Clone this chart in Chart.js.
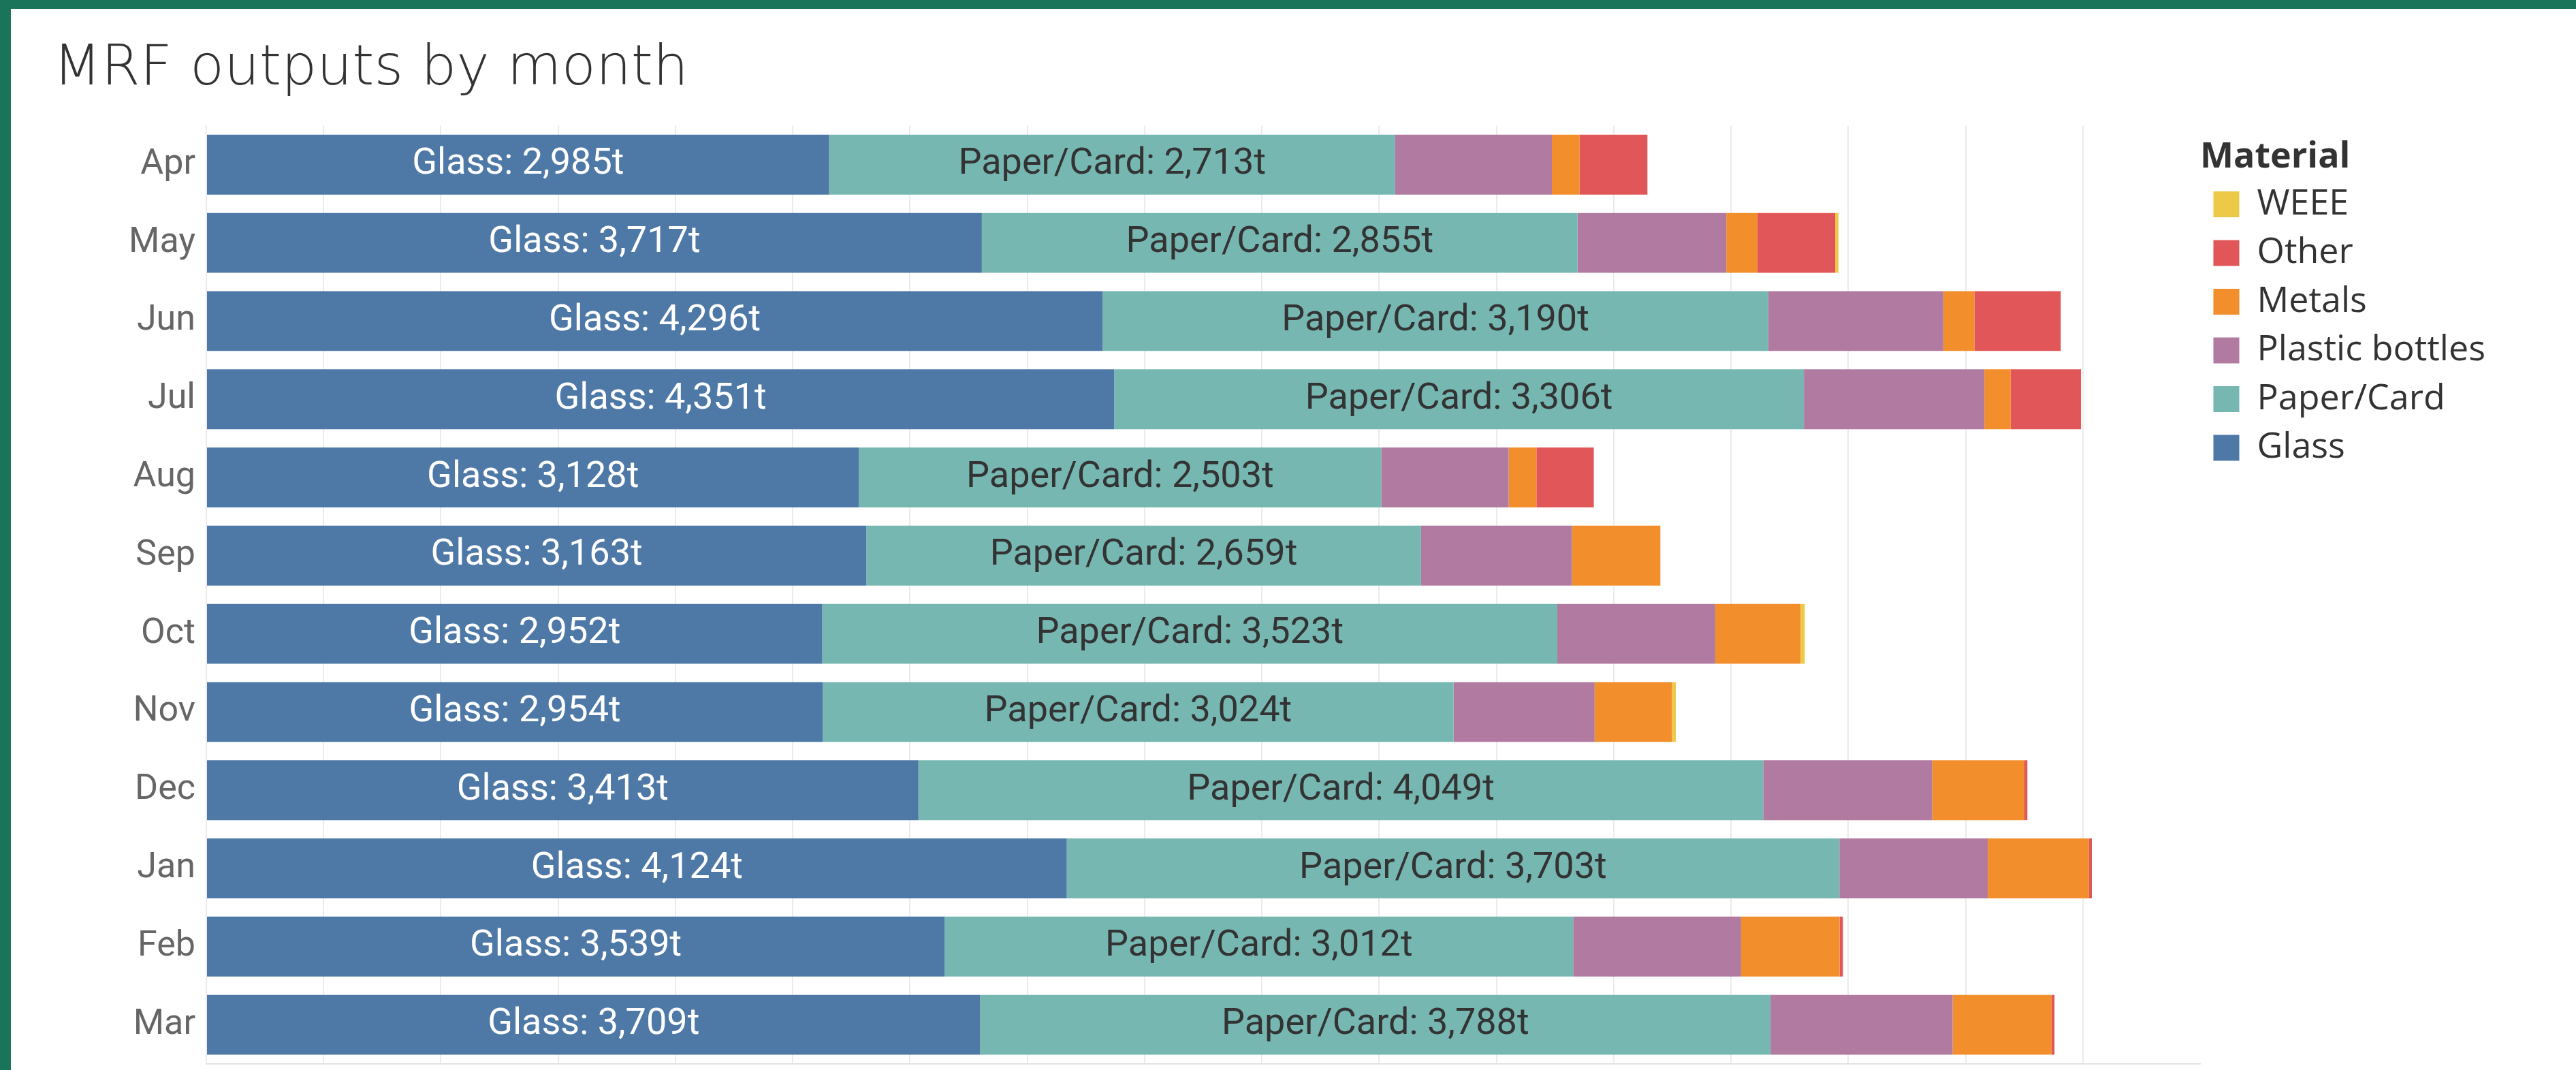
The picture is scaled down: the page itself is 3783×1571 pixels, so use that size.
<!DOCTYPE html>
<html>
<head>
<meta charset="utf-8">
<title>MRF outputs by month</title>
<script src="https://cdn.jsdelivr.net/npm/chart.js@4"></script>
<style>
  html, body { margin: 0; padding: 0; background: #fff; overflow: hidden; }
  #wrap { position: relative; width: 3783px; height: 1571px; }
  #wrap canvas { position: absolute; left: 0; top: 0; }
  .frame { position: absolute; background: #19745a; }
</style>
</head>
<body>
<div id="wrap">
  <canvas id="chart" width="3783" height="1571"></canvas>
  <div class="frame" style="left:0;top:0;width:3783px;height:13px"></div>
  <div class="frame" style="left:0;top:0;width:16px;height:1571px"></div>
</div>
<script>
const months = ["Apr", "May", "Jun", "Jul", "Aug", "Sep", "Oct", "Nov", "Dec", "Jan", "Feb", "Mar"];

// tonnes per material
const glass   = [2985, 3717, 4296, 4351, 3128, 3163, 2952, 2954, 3413, 4124, 3539, 3709];
const paper   = [2713, 2855, 3190, 3306, 2503, 2659, 3523, 3024, 4049, 3703, 3012, 3788];
const plastic = [751, 713, 839, 865, 611, 723, 757, 676, 810, 711, 805, 873];
const metals  = [133, 149, 149, 126, 133, 424, 408, 371, 442, 485, 472, 474];
const other   = [325, 373, 414, 337, 275, 0, 0, 0, 14, 14, 16, 14];
const weee    = [0, 16, 0, 0, 0, 0, 21, 18, 0, 0, 0, 0];

const X_MAX = 9556;
const GRID_STEP = 561.3;
const LEGEND_W = 552;

const barLabels = {
  id: "barLabels",
  afterDatasetsDraw(chart) {
    const ctx = chart.ctx;
    const colours = ["#ffffff", "#333333"];
    ctx.save();
    ctx.font = "54px Roboto";
    ctx.textAlign = "center";
    ctx.textBaseline = "middle";
    [0, 1].forEach(i => {
      const ds = chart.data.datasets[i];
      ctx.fillStyle = colours[i];
      chart.getDatasetMeta(i).data.forEach((bar, j) => {
        const text = `${ds.label}: ${ds.data[j].toLocaleString("en-US")}t`;
        ctx.fillText(text, (bar.x + bar.base) / 2, bar.y);
      });
    });
    ctx.restore();
  }
};

// fixed legend width so the plot ends where the reference pane ends
const legendWidth = {
  id: "legendWidth",
  beforeInit(chart) {
    const fit = chart.legend.fit;
    chart.legend.fit = function () {
      fit.call(this);
      this.width = LEGEND_W;
    };
  }
};

const bar = (label, data, colour) => ({
  label, data, backgroundColor: colour, borderWidth: 0,
  barPercentage: 0.766, categoryPercentage: 1
});

new Chart(document.getElementById("chart"), {
  type: "bar",
  data: {
    labels: months,
    datasets: [
      bar("Glass", glass, "#4e79a7"),
      bar("Paper/Card", paper, "#76b7b2"),
      bar("Plastic bottles", plastic, "#b07aa1"),
      bar("Metals", metals, "#f28e2b"),
      bar("Other", other, "#e15759"),
      bar("WEEE", weee, "#edc948")
    ]
  },
  options: {
    indexAxis: "y",
    responsive: false,
    animation: false,
    events: [],
    layout: { padding: { left: 78, top: 0, right: 0, bottom: 9 } },
    scales: {
      x: {
        stacked: true,
        min: 0,
        max: X_MAX,
        ticks: { display: false, stepSize: GRID_STEP, includeBounds: false },
        grid: {
          color: c => (c.tick && c.tick.value > 9000 ? "rgba(0,0,0,0)" : "#ebebeb"),
          lineWidth: 2,
          drawTicks: false
        },
        border: { display: true, color: "#e4e4e4", width: 2 },
        afterFit: s => { s.height = 0; }
      },
      y: {
        stacked: true,
        offset: true,
        grid: { display: false, drawTicks: false },
        border: { display: false },
        ticks: { color: "#666666", font: { family: "Roboto", size: 52 }, padding: 16 },
        afterFit: s => { s.width = 225; s.paddingTop = 0; s.paddingBottom = 0; }
      }
    },
    plugins: {
      tooltip: { enabled: false },
      title: {
        display: true,
        text: "MRF outputs by month",
        align: "start",
        color: "#333333",
        font: { family: "'DejaVu Sans', 'Open Sans'", weight: 200, size: 82, lineHeight: 1.2 },
        padding: { top: 53.4, bottom: 32.6 }
      },
      legend: {
        position: "right",
        align: "start",
        fullSize: false,
        reverse: true,
        labels: {
          boxWidth: 38,
          boxHeight: 38,
          padding: 19.5,
          color: "#333333",
          font: { family: "Open Sans", size: 52 }
        },
        title: {
          display: true,
          position: "start",
          text: "Material",
          color: "#333333",
          font: { family: "Open Sans", size: 52, weight: "bold", lineHeight: 0.9 },
          padding: { top: 21, bottom: 2.3 }
        }
      }
    }
  },
  plugins: [barLabels, legendWidth]
});
</script>
</body>
</html>
